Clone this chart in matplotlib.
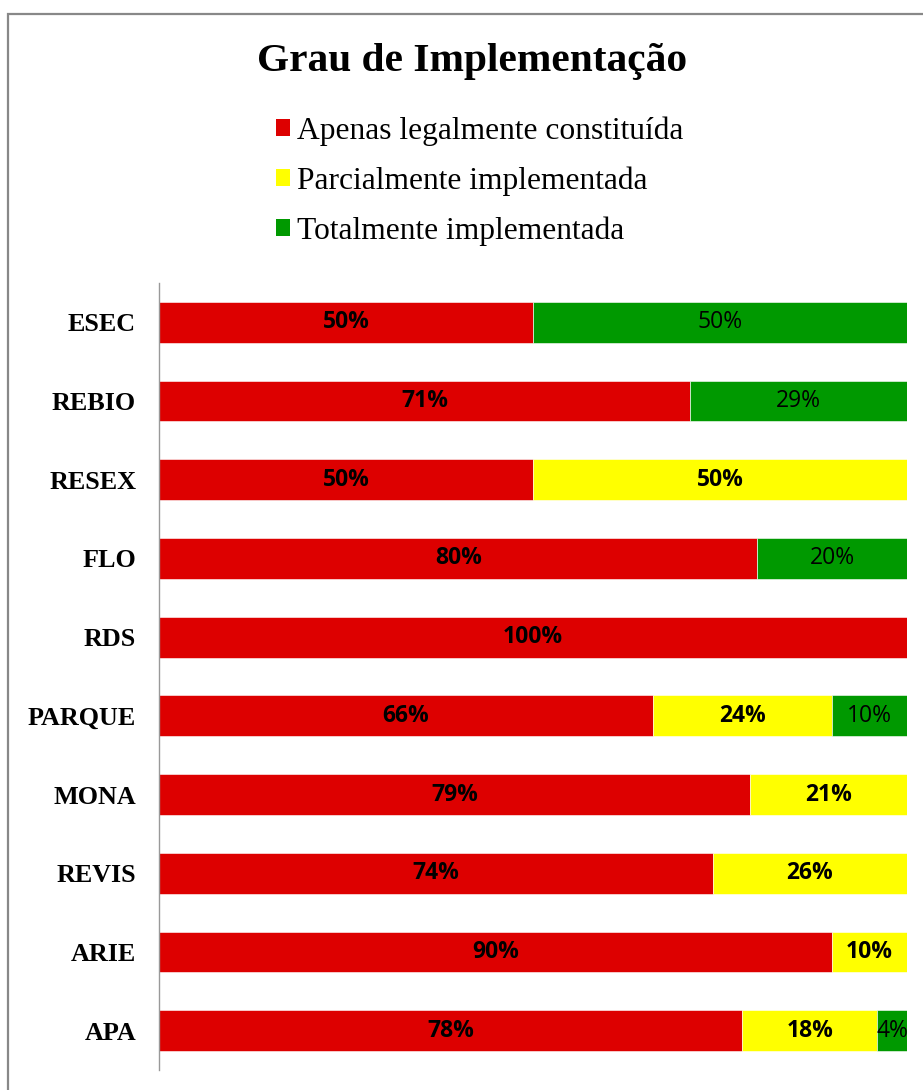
import matplotlib.pyplot as plt
from matplotlib.patches import Patch, Rectangle

categorias = ["ESEC", "REBIO", "RESEX", "FLO", "RDS", "PARQUE", "MONA", "REVIS", "ARIE", "APA"]
apenas_legal = [50, 71, 50, 80, 100, 66, 79, 74, 90, 78]
parcial = [0, 0, 50, 0, 0, 24, 21, 26, 10, 18]
total = [50, 29, 0, 20, 0, 10, 0, 0, 0, 4]

series = ["Apenas legalmente constituída", "Parcialmente implementada", "Totalmente implementada"]
cores = ["#DD0000", "#FFFF00", "#009900"]

fig = plt.figure(figsize=(9.23, 10.90), dpi=100)
ax = fig.add_axes([0.1723, 0.0183, 0.9827 - 0.1723, 0.7404 - 0.0183])

y = list(range(len(categorias)))
left = [0] * len(categorias)
for vals, cor, nome in zip([apenas_legal, parcial, total], cores, series):
    larg = [v / 100 for v in vals]
    ax.barh(y, larg, left=left, height=0.52, color=cor, edgecolor="white",
            linewidth=0.4, label=nome)
    for yi, l, v in zip(y, left, vals):
        if v > 0:
            peso = "normal" if cor == "#009900" else "bold"
            ax.text(l + v / 200, yi, f"{v}%", ha="center", va="center",
                    fontsize=16.5, fontweight=peso, family="Open Sans", color="black")
    left = [a + b for a, b in zip(left, larg)]

ax.set_xlim(0, 1)
ax.set_ylim(len(categorias) - 0.5, -0.5)
ax.set_yticks(y)
ax.set_yticklabels(categorias, family="Liberation Serif", fontweight="bold", fontsize=18.8)
ax.tick_params(axis="y", length=0, pad=16.5)
ax.set_xticks([])
for s in ["top", "right", "bottom"]:
    ax.spines[s].set_visible(False)
ax.spines["left"].set_color("#999999")
ax.spines["left"].set_linewidth(1.0)

fig.text(472 / 923, 1 - 62 / 1090, "Grau de Implementação", ha="center", va="center",
         family="Liberation Serif", fontweight="bold", fontsize=29.8)

handles = [Patch(facecolor=c, edgecolor="none") for c in cores]
fig.legend(handles, series, loc="upper left", bbox_to_anchor=(276 / 923, 1 - 116 / 1090),
           frameon=False, prop={"family": "Liberation Serif", "size": 22.7},
           handlelength=0.45, handleheight=0.45, handletextpad=0.22,
           labelspacing=0.66, borderpad=0, borderaxespad=0)

fig.patches.append(Rectangle((8 / 923, -0.1), 1.2, 1.1 - 14 / 1090, transform=fig.transFigure,
                             fill=False, edgecolor="#888888", linewidth=1.6))

fig.savefig("out.png", dpi=100)
